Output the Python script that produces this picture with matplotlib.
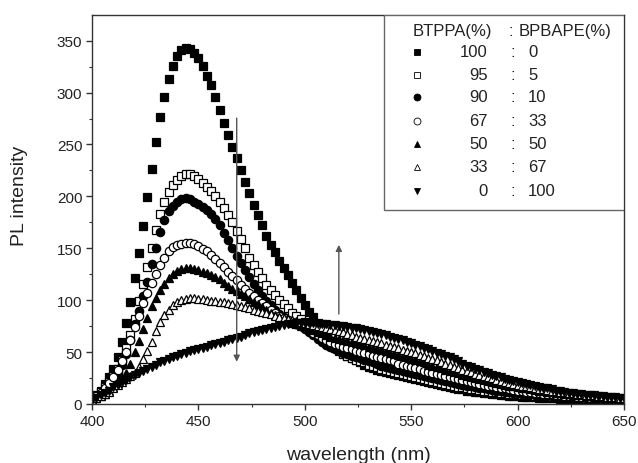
import numpy as np
import matplotlib
matplotlib.use("Agg")
import matplotlib.pyplot as plt
from matplotlib.patches import Rectangle

plt.rcParams['font.family'] = ['Liberation Sans', 'DejaVu Sans']

# wavelength grid (nm), 2 nm steps
wavelength = np.arange(400, 651, 2)

# PL intensity for each BTPPA:BPBAPE ratio
pl_100_0 = [5, 9, 13, 19, 26, 34, 45, 60, 78, 98,
            121, 145, 171, 199, 226, 252, 276, 296, 313, 326,
            335, 341, 343, 342, 338, 333, 326, 316, 307, 296,
            283, 271, 259, 248, 237, 225, 214, 203, 192, 182,
            172, 162, 153, 146, 138, 131, 124, 117, 110, 102,
            95, 89, 84, 78, 72, 66, 61, 57, 53, 49,
            46, 44, 42, 40, 38, 36, 35, 33, 32, 31,
            30, 29, 28, 27, 26, 25, 24, 23, 22, 21,
            20, 19, 18, 17, 16, 15, 14.5, 14, 13, 12.5,
            12, 11.5, 11, 10.5, 10, 9.5, 9, 8.5, 8, 7.8,
            7.5, 7.2, 7, 6.7, 6.4, 6.1, 5.9, 5.7, 5.5, 5.3,
            5.1, 4.9, 4.7, 4.6, 4.5, 4.4, 4.3, 4.2, 4.1, 4,
            3.9, 3.8, 3.7, 3.6, 3.5, 3.4]

pl_95_5 = [5, 8, 12, 16, 21, 27, 34, 42, 54, 66,
           82, 99, 116, 132, 150, 168, 183, 195, 204, 211,
           216, 220, 222, 222, 220, 217, 213, 209, 205, 200,
           195, 189, 182, 175, 167, 159, 150, 141, 134, 127,
           121, 115, 110, 105, 100, 96, 92, 88, 85, 82,
           79, 75, 71, 67, 63, 60, 57, 54, 51, 48,
           46, 44, 42, 41, 40, 38, 37, 36, 34, 33,
           32, 31, 30, 29, 28, 27, 26, 25, 24, 23,
           22, 21, 20, 19, 18, 17, 16.5, 16, 15, 14.5,
           14, 13.5, 13, 12.5, 12, 11.5, 11, 10.5, 10, 9.7,
           9.4, 9, 8.7, 8.3, 8, 7.7, 7.4, 7.1, 6.8, 6.5,
           6.2, 6, 5.8, 5.6, 5.4, 5.2, 5, 4.8, 4.6, 4.4,
           4.3, 4.2, 4.1, 4, 3.9, 3.8]

pl_90_10 = [5, 7, 10, 13, 18, 23, 30, 38, 48, 62,
            77, 90, 104, 118, 135, 150, 166, 177, 186, 191,
            195, 197, 198, 197, 195, 193, 190, 187, 183, 178,
            172, 165, 158, 150, 143, 136, 129, 122, 116, 110,
            104, 99, 95, 91, 87, 84, 81, 79, 77, 75,
            72, 69, 66, 63, 60, 57, 55, 53, 51, 49,
            48, 46, 45, 44, 42, 41, 40, 39, 37, 36,
            35, 34, 33, 32, 31, 30, 29, 28, 27, 26,
            25, 24, 23, 22, 21, 20, 19, 18, 17.5, 17,
            16, 15.5, 15, 14, 13.5, 13, 12.5, 12, 11.5, 11,
            10.5, 10, 9.6, 9.2, 8.8, 8.4, 8, 7.7, 7.4, 7.1,
            6.8, 6.5, 6.2, 6, 5.8, 5.6, 5.4, 5.2, 5, 4.8,
            4.6, 4.5, 4.4, 4.3, 4.2, 4.1]

pl_67_33 = [5, 8, 11, 15, 20, 26, 33, 41, 50, 62,
            74, 85, 97, 107, 117, 125, 134, 141, 147, 151,
            153, 154, 155, 155, 154, 152, 149, 147, 144, 140,
            136, 132, 127, 123, 119, 115, 111, 107, 104, 100,
            97, 94, 91, 88, 85, 83, 81, 79, 77, 75,
            73, 71, 68, 66, 64, 62, 60, 58, 57, 55,
            54, 53, 51, 50, 49, 48, 46, 45, 44, 43,
            42, 41, 39, 38, 37, 36, 35, 34, 32, 31,
            30, 29, 28, 27, 26, 25, 24, 23, 22, 21,
            20, 19, 18.5, 17.5, 17, 16, 15.5, 15, 14, 13.5,
            13, 12.5, 12, 11.5, 11, 10.5, 10, 9.6, 9.2, 8.8,
            8.4, 8, 7.7, 7.4, 7.1, 6.8, 6.5, 6.2, 6, 5.8,
            5.6, 5.4, 5.2, 5, 4.8, 4.6]

pl_50_50 = [4, 6, 8, 10, 13, 16, 20, 24, 30, 39,
            50, 61, 72, 83, 94, 102, 110, 116, 121, 125,
            128, 130, 131, 131, 130, 129, 127, 126, 124, 122,
            120, 117, 114, 111, 109, 106, 104, 101, 98, 96,
            93, 91, 88, 86, 84, 82, 80, 78, 77, 75,
            74, 72, 71, 69, 68, 66, 65, 64, 63, 62,
            61, 60, 59, 58, 57, 55, 54, 53, 52, 51,
            49, 48, 47, 46, 45, 43, 42, 41, 40, 38,
            37, 36, 35, 33, 32, 31, 30, 28, 27, 26,
            25, 24, 23, 22, 21, 20, 19, 18.5, 17.5, 17,
            16, 15.5, 15, 14, 13.5, 13, 12.5, 12, 11.5, 11,
            10.5, 10, 9.5, 9, 8.6, 8.2, 7.8, 7.4, 7, 6.7,
            6.4, 6.1, 5.8, 5.5, 5.2, 5]

pl_33_67 = [4, 6, 8, 10, 12, 15, 18, 21, 24, 27,
            30, 36, 43, 51, 60, 70, 79, 86, 91, 95,
            98, 100, 101, 102, 102, 101, 101, 100, 99, 99,
            98, 98, 97, 96, 95, 94, 93, 92, 91, 90,
            89, 88, 87, 85, 84, 83, 82, 81, 80, 79,
            78, 77, 76, 75, 74, 73, 72, 71, 70, 69,
            67, 66, 65, 64, 63, 62, 61, 60, 59, 57,
            56, 55, 54, 52, 51, 50, 49, 47, 46, 44,
            43, 42, 40, 39, 38, 36, 35, 33, 32, 31,
            29, 28, 27, 26, 25, 23, 22, 21, 20, 19,
            18, 17.5, 17, 16, 15, 14.5, 14, 13.5, 13, 12.5,
            12, 11.5, 11, 10.5, 10, 9.5, 9, 8.6, 8.2, 7.8,
            7.4, 7, 6.7, 6.4, 6.1, 5.8]

pl_0_100 = [4, 6, 9, 11, 13, 16, 18, 21, 23, 26,
            28, 30, 32, 34, 36, 38, 40, 41, 43, 45,
            46, 48, 49, 51, 52, 53, 54, 55, 57, 58,
            59, 60, 62, 63, 64, 65, 66, 68, 69, 70,
            71, 72, 73, 74, 75, 76, 77, 77, 78, 78,
            78, 78, 78, 77, 77, 77, 76, 76, 75, 75,
            74, 73, 73, 72, 71, 70, 69, 68, 67, 66,
            65, 64, 63, 62, 60, 59, 57, 56, 54, 53,
            51, 49, 48, 46, 45, 43, 41, 39, 37, 36,
            34, 33, 31, 30, 28, 27, 26, 24, 23, 22,
            21, 20, 19, 18, 17, 16, 15, 15, 14, 13,
            13, 12, 11, 11, 10, 10, 9, 9, 9, 8,
            8, 7, 7, 7, 6, 6]

btppa = ["100", "95", "90", "67", "50", "33", "0"]
bpbape = ["0", "5", "10", "33", "50", "67", "100"]
series = [pl_100_0, pl_95_5, pl_90_10, pl_67_33, pl_50_50, pl_33_67, pl_0_100]
markers = ['s', 's', 'o', 'o', '^', '^', 'v']
filled = [True, False, True, False, True, False, True]

W, H = 638, 464
fig = plt.figure(figsize=(W / 100, H / 100), dpi=100)
L, R, B, T = 92, 624, 405, 15.7
ax = fig.add_axes([L / W, 1 - B / H, (R - L) / W, (B - T) / H])

for y, m, f in zip(series, markers, filled):
    ax.plot(wavelength, y, linestyle='none', marker=m, markersize=6,
            markerfacecolor='black' if f else 'white',
            markeredgecolor='black', markeredgewidth=0.9)

ax.set_xlim(400, 650)
ax.set_ylim(0, 375)
ax.set_xticks([400, 450, 500, 550, 600, 650])
ax.set_yticks([0, 50, 100, 150, 200, 250, 300, 350])
ax.set_xticks(np.arange(425, 650, 50), minor=True)
ax.set_yticks(np.arange(25, 375, 50), minor=True)
ax.tick_params(which='major', direction='out', length=4, width=1, labelsize=11, pad=3,
               color='#333333', labelcolor='#222222')
ax.tick_params(which='minor', direction='out', length=2.5, width=0.8, color='#333333')
for s in ax.spines.values():
    s.set_linewidth(1.0)
    s.set_color('#333333')

ax.set_xlabel('wavelength (nm)', fontsize=14, color='#222222')
ax.set_ylabel('PL intensity', fontsize=14, color='#222222')
ax.xaxis.set_label_coords(0.5, -0.108)
ax.yaxis.set_label_coords(-0.12, 0.537)

# arrows
ax.annotate('', xy=(468, 38), xytext=(468, 278),
            arrowprops=dict(arrowstyle='-|>', color='#555555', lw=1.0, mutation_scale=9))
ax.annotate('', xy=(516, 156), xytext=(516, 84),
            arrowprops=dict(arrowstyle='-|>', color='#555555', lw=1.0, mutation_scale=9))

# legend box
box = Rectangle((0.549, 0.499), 1 - 0.549, 0.501, transform=ax.transAxes,
                facecolor='white', edgecolor='#666666', linewidth=1.0, zorder=5)
ax.add_patch(box)
fs = 12
tc = '#222222'
ax.text(0.603, 0.960, 'BTPPA(%)', transform=ax.transAxes, ha='left', va='center', fontsize=fs, color=tc, zorder=6)
ax.text(0.788, 0.960, ':', transform=ax.transAxes, ha='center', va='center', fontsize=fs, color=tc, zorder=6)
ax.text(0.801, 0.960, 'BPBAPE(%)', transform=ax.transAxes, ha='left', va='center', fontsize=fs, color=tc, zorder=6)
row_y = [0.905, 0.846, 0.789, 0.7275, 0.668, 0.609, 0.5476]
for yy, m, f, a, b in zip(row_y, markers, filled, btppa, bpbape):
    ax.plot([0.610], [yy], transform=ax.transAxes, linestyle='none', marker=m, markersize=5,
            markerfacecolor='black' if f else 'white', markeredgecolor='black',
            markeredgewidth=0.6, zorder=6, clip_on=False)
    ax.text(0.744, yy, a, transform=ax.transAxes, ha='right', va='center', fontsize=fs, color=tc, zorder=6)
    ax.text(0.791, yy, ':', transform=ax.transAxes, ha='center', va='center', fontsize=fs, color=tc, zorder=6)
    ax.text(0.820, yy, b, transform=ax.transAxes, ha='left', va='center', fontsize=fs, color=tc, zorder=6)

fig.savefig('out.png', dpi=100)
